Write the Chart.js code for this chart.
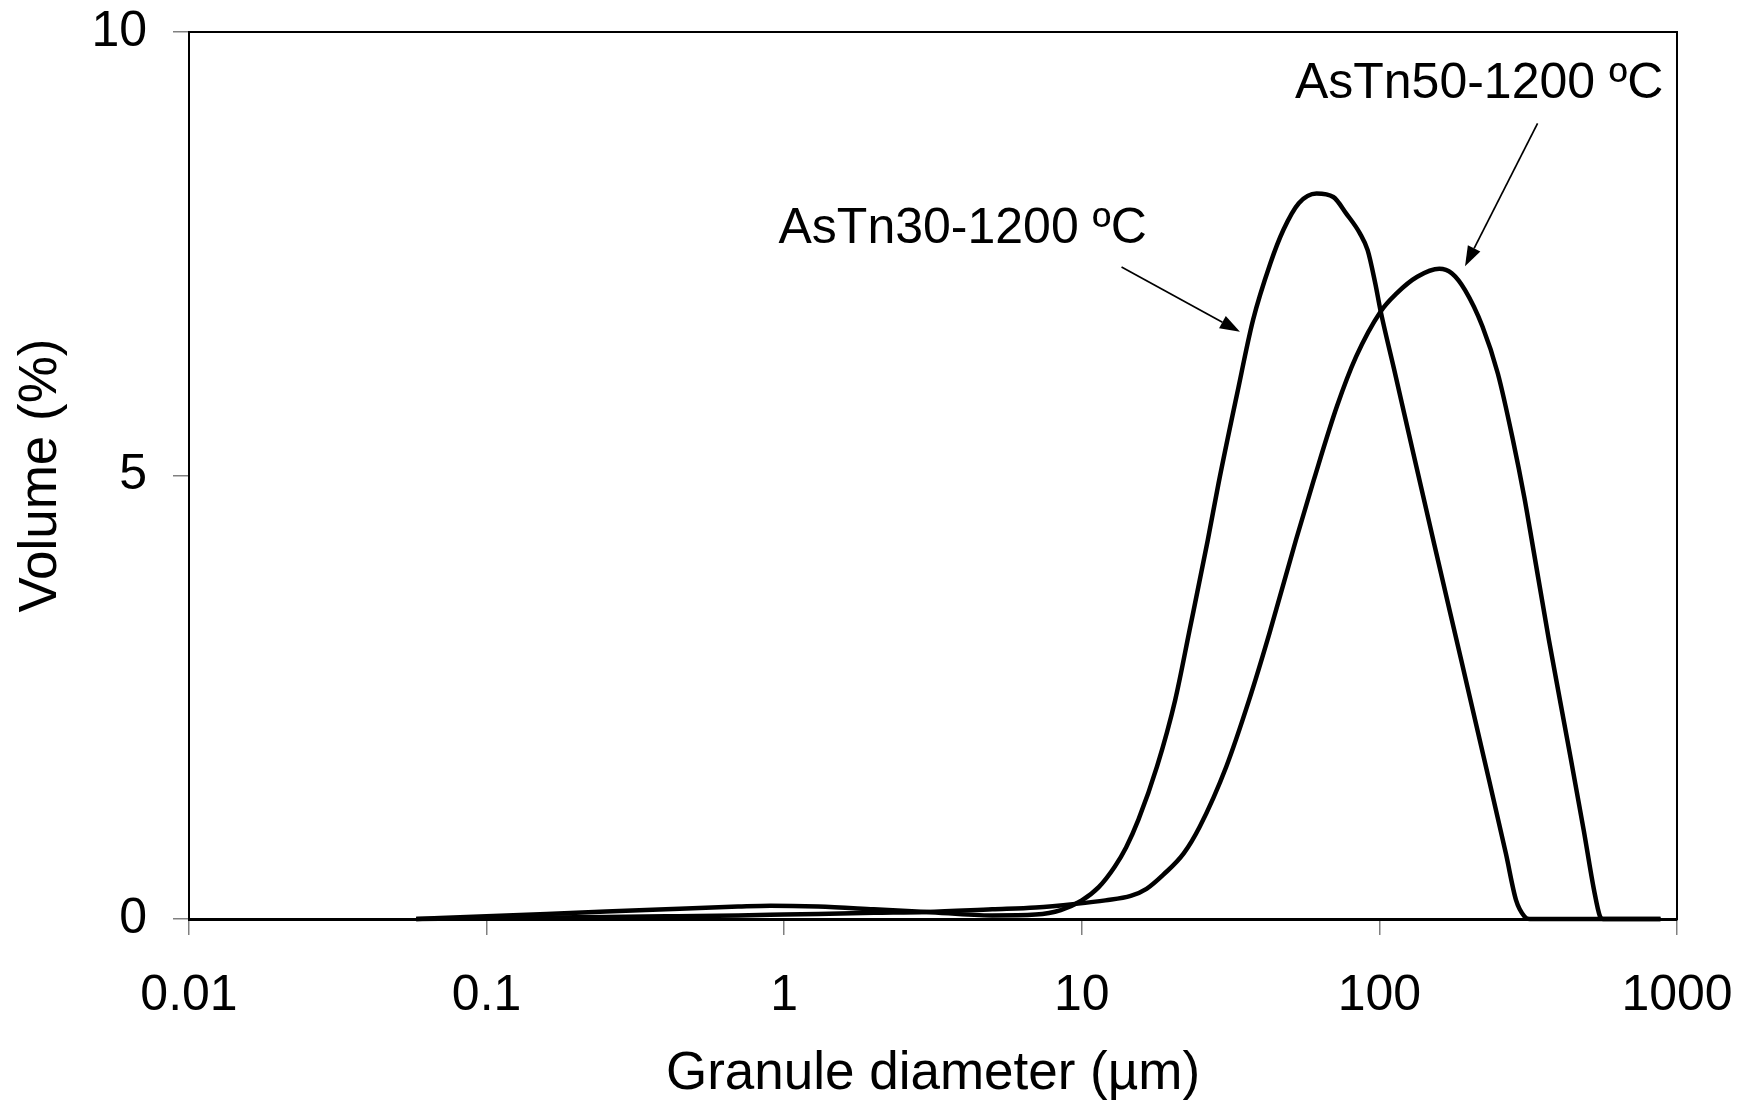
<!DOCTYPE html>
<html>
<head>
<meta charset="utf-8">
<script src="https://cdn.jsdelivr.net/npm/chart.js@4.4.0/dist/chart.umd.min.js"></script>
<style>
html, body { margin: 0; padding: 0; background: #fff; }
#wrap { width: 1742px; height: 1113px; }
</style>
</head>
<body>
<div id="wrap"><canvas id="canvas_psd" width="1742" height="1113"></canvas></div>
<script>
// granule size distribution (diameter in um, volume in %)
var diam30 = [0.058, 0.1, 0.2, 0.4, 0.7, 0.9, 1.3, 2, 3, 5, 7, 8.5, 10, 11.4, 12.9, 14.1, 15.5, 17.9, 20.6, 23, 26.5, 28.8, 33.3, 37.6, 43, 47.6, 53.6, 61.5, 70, 77.5, 86, 91.3, 96.8, 101, 112, 130, 153, 188, 224, 266, 288, 307, 320, 880];
var vol30 = [0, 0.03, 0.07, 0.11, 0.14, 0.15, 0.14, 0.11, 0.08, 0.04, 0.05, 0.1, 0.21, 0.36, 0.59, 0.81, 1.12, 1.72, 2.47, 3.25, 4.27, 4.91, 5.93, 6.75, 7.39, 7.77, 8.07, 8.18, 8.14, 7.95, 7.73, 7.54, 7.17, 6.85, 6.2, 5.25, 4.22, 2.93, 1.83, 0.74, 0.21, 0.03, 0, 0];

var diam50 = [0.058, 0.1, 0.2, 0.4, 0.7, 1, 2, 3, 5, 7, 9.5, 12, 14.6, 16.5, 18.8, 22, 24.9, 30.6, 36.5, 42.7, 52.4, 60.2, 72, 83.5, 101, 114, 134, 159, 175, 194, 222, 250, 281, 307, 321, 371, 428, 486, 526, 551, 565, 880];
var vol50 = [0, 0.01, 0.02, 0.03, 0.04, 0.05, 0.07, 0.08, 0.11, 0.13, 0.17, 0.21, 0.26, 0.34, 0.5, 0.74, 1.04, 1.72, 2.47, 3.22, 4.27, 4.95, 5.78, 6.34, 6.85, 7.05, 7.24, 7.33, 7.28, 7.09, 6.68, 6.15, 5.4, 4.75, 4.38, 3.15, 2.02, 1.0, 0.33, 0.03, 0, 0];

var xTicks = [0.01, 0.1, 1, 10, 100, 1000];
var xTickLabels = ['0.01', '0.1', '1', '10', '100', '1000'];
var yTicks = [0, 5, 10];

// curve labels and their arrows, in data units
var noteText = ['AsTn30-1200 ºC', 'AsTn50-1200 ºC'];
var noteAt = [[0.957, 7.62], [52, 9.26]];
var arrowFrom = [[13.6, 7.35], [340, 8.97]];
var arrowTo = [[34.0, 6.62], [194, 7.36]];

const FONT = '"Liberation Sans", Arial, Helvetica, sans-serif';

function toPoints(xs, ys) {
    return xs.map((v, i) => ({ x: v, y: ys[i] }));
}

const notes = {
    id: 'notes',
    afterDatasetsDraw(chart) {
        const ctx = chart.ctx;
        const x = chart.scales.x;
        const y = chart.scales.y;
        ctx.save();
        ctx.fillStyle = '#000';
        ctx.strokeStyle = '#000';
        ctx.font = '50px ' + FONT;
        ctx.textAlign = 'left';
        ctx.textBaseline = 'alphabetic';
        noteText.forEach((t, i) => {
            ctx.fillText(t, x.getPixelForValue(noteAt[i][0]), y.getPixelForValue(noteAt[i][1]));
        });
        ctx.lineWidth = 1.7;
        arrowFrom.forEach((p, i) => {
            const x0 = x.getPixelForValue(p[0]), y0 = y.getPixelForValue(p[1]);
            const x1 = x.getPixelForValue(arrowTo[i][0]), y1 = y.getPixelForValue(arrowTo[i][1]);
            const a = Math.atan2(y1 - y0, x1 - x0);
            const hl = 20, hw = 7;
            const bx = x1 - hl * Math.cos(a), by = y1 - hl * Math.sin(a);
            ctx.beginPath();
            ctx.moveTo(x0, y0);
            ctx.lineTo(bx, by);
            ctx.stroke();
            ctx.beginPath();
            ctx.moveTo(x1, y1);
            ctx.lineTo(bx + hw * Math.sin(a), by - hw * Math.cos(a));
            ctx.lineTo(bx - hw * Math.sin(a), by + hw * Math.cos(a));
            ctx.closePath();
            ctx.fill();
        });
        // plot frame
        const area = chart.chartArea;
        ctx.lineWidth = 2;
        ctx.strokeRect(area.left, area.top, area.right - area.left, area.bottom - area.top);
        ctx.restore();
    }
};

const ctx = document.getElementById('canvas_psd').getContext('2d');
var chart1 = new Chart(ctx, {
    type: 'line',
    data: {
        datasets: [
            {
                label: 'AsTn30-1200 ºC',
                data: toPoints(diam30, vol30),
                borderColor: '#000',
                borderWidth: 4.5,
                pointRadius: 0,
                fill: false,
                cubicInterpolationMode: 'monotone',
                clip: 5
            },
            {
                label: 'AsTn50-1200 ºC',
                data: toPoints(diam50, vol50),
                borderColor: '#000',
                borderWidth: 4.5,
                pointRadius: 0,
                fill: false,
                cubicInterpolationMode: 'monotone',
                clip: 5
            }
        ]
    },
    options: {
        responsive: false,
        animation: false,
        devicePixelRatio: 1,
        layout: { padding: { left: 0, right: 65, top: 32, bottom: 0 } },
        plugins: {
            legend: { display: false },
            tooltip: { enabled: false }
        },
        scales: {
            x: {
                type: 'logarithmic',
                min: 0.01,
                max: 1000,
                afterBuildTicks: s => { s.ticks = xTicks.map(v => ({ value: v })); },
                afterFit: s => {
                    s.height = 194;
                    s.paddingLeft = 0;
                    s.paddingRight = 0;
                },
                ticks: {
                    autoSkip: false,
                    maxRotation: 0,
                    padding: 31,
                    color: '#000',
                    font: { family: FONT, size: 50 },
                    callback: (v, i) => xTickLabels[i]
                },
                grid: {
                    drawOnChartArea: false,
                    drawTicks: true,
                    tickLength: 16,
                    color: '#808080',
                    lineWidth: 1.5
                },
                border: { display: true, color: '#000', width: 3 },
                title: {
                    display: true,
                    text: 'Granule diameter (µm)',
                    color: '#000',
                    font: { family: FONT, size: 53 },
                    padding: { top: 0, bottom: 7 }
                }
            },
            y: {
                min: 0,
                max: 10,
                afterBuildTicks: s => { s.ticks = yTicks.map(v => ({ value: v })); },
                afterFit: s => {
                    s.width = 189;
                    s.paddingTop = 0;
                    s.paddingBottom = 0;
                },
                ticks: {
                    padding: 26,
                    color: '#000',
                    font: { family: FONT, size: 50 }
                },
                grid: {
                    drawOnChartArea: false,
                    drawTicks: true,
                    tickLength: 16,
                    color: '#808080',
                    lineWidth: 1.5
                },
                border: { display: true, color: '#000', width: 2 },
                title: {
                    display: true,
                    text: 'Volume (%)',
                    color: '#000',
                    font: { family: FONT, size: 53 },
                    padding: { top: 10, bottom: 0 }
                }
            }
        }
    },
    plugins: [notes]
});
</script>
</body>
</html>
